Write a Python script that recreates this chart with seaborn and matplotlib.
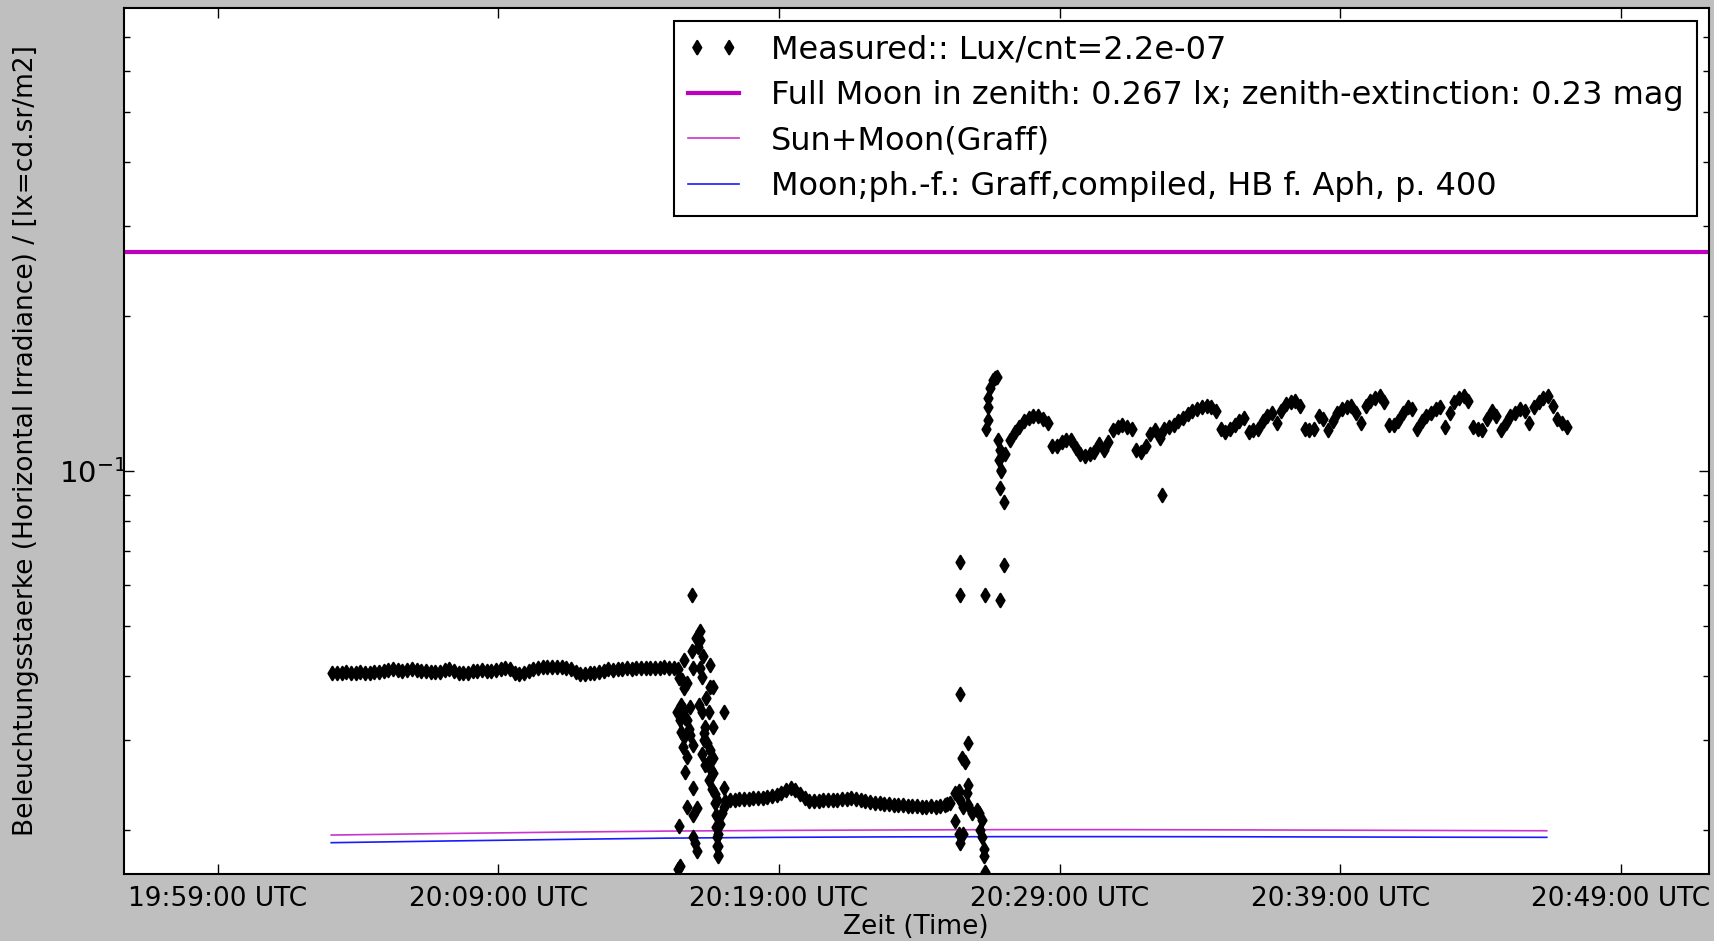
import numpy as np
import pandas as pd
import matplotlib
matplotlib.use("Agg")
import matplotlib.pyplot as plt
import matplotlib.dates as mdates
import matplotlib.ticker as mticker
import seaborn as sns

# ---------------- data (times are minutes after 19:59:00 UTC) ----------------
# regularly sampled measured segments (10 s cadence)
seg1_start = 4.08
seg1_vals = [0.0404, 0.0405, 0.0405, 0.0406, 0.0405, 0.0405, 0.0406, 0.0405, 0.0405, 0.0406, 0.0407, 0.0408,
             0.0410, 0.0411, 0.0410, 0.0409, 0.0410, 0.0411, 0.0410, 0.0409, 0.0409,
             0.0407, 0.0406, 0.0407,
             0.0410, 0.0411, 0.0409,
             0.0405, 0.0404, 0.0405,
             0.0408, 0.0409, 0.0410, 0.0409, 0.0408, 0.0410,
             0.0412, 0.0413, 0.0411,
             0.0405, 0.0403, 0.0404,
             0.0409, 0.0412, 0.0414, 0.0415, 0.0416, 0.0415, 0.0416, 0.0415, 0.0414, 0.0412,
             0.0406, 0.0403, 0.0403, 0.0404, 0.0405, 0.0407,
             0.0409, 0.0411, 0.0410, 0.0411, 0.0412, 0.0413, 0.0412, 0.0413, 0.0414, 0.0413, 0.0414,
             0.0413, 0.0414, 0.0415, 0.0414, 0.0413, 0.0412]

trans1_t = [16.89, 17.17, 17.05, 17.19, 16.89, 17.28, 16.60, 17.55, 16.95, 17.17, 17.25, 16.54, 16.71,
            16.60, 17.55, 17.66, 17.40, 16.36, 16.60, 16.83, 17.25, 17.49, 18.02, 16.48, 16.71, 17.37,
            17.66, 16.60, 16.83, 17.31, 17.43, 16.95, 16.71, 17.25, 17.55, 17.66, 16.65, 17.37, 17.66,
            16.95, 17.49, 17.60, 18.02, 17.78, 18.02, 16.71, 17.07, 16.95, 16.42, 17.96, 17.90, 17.84,
            16.95, 17.01, 17.07, 17.84, 17.84, 16.48, 16.39, 17.72, 17.74, 17.75, 17.78, 17.80, 17.82,
            16.45, 16.52, 16.66, 16.78, 17.10, 17.13, 17.34, 17.46, 17.58, 17.70, 16.50, 16.57]
trans1_v = [0.0574, 0.0489, 0.0473, 0.0469, 0.0447, 0.0437, 0.0428, 0.0419, 0.0413, 0.0413, 0.0398, 0.0392,
            0.0386, 0.0378, 0.0380, 0.0380, 0.0361, 0.0340, 0.0343, 0.0348, 0.0340, 0.0340, 0.0340, 0.0328,
            0.0328, 0.0318, 0.0318, 0.0304, 0.0307, 0.0309, 0.0295, 0.0293, 0.0278, 0.0282, 0.0287, 0.0276,
            0.0260, 0.0268, 0.0258, 0.0242, 0.0251, 0.0241, 0.0242, 0.0229, 0.0222, 0.0222, 0.0221, 0.0214,
            0.0204, 0.0216, 0.0206, 0.0197, 0.0194, 0.0189, 0.0182, 0.0186, 0.0179, 0.0170, 0.0168,
            0.0226, 0.0214, 0.0203, 0.0194, 0.0186, 0.0178,
            0.0395, 0.0350, 0.0330, 0.0315, 0.0455, 0.0350, 0.0300, 0.0270, 0.0262, 0.0235, 0.0310, 0.0290]

seg3_start = 18.08
seg3_vals = [0.0228, 0.0229, 0.0229, 0.0230, 0.0230, 0.0230, 0.0231, 0.0231, 0.0231, 0.0232,
             0.0233, 0.0234, 0.0236,
             0.0239, 0.0242, 0.0239, 0.0235, 0.0231, 0.0228,
             0.0228, 0.0228, 0.0229, 0.0229, 0.0229, 0.0229, 0.0230, 0.0230, 0.0231,
             0.0230, 0.0229, 0.0228, 0.0227, 0.0226, 0.0226,
             0.0225, 0.0225, 0.0224, 0.0224, 0.0224, 0.0223, 0.0223, 0.0223, 0.0222, 0.0222,
             0.0223, 0.0222, 0.0223, 0.0224]

trans2_t = [26.00, 26.10, 26.28, 26.45, 26.57, 26.75, 26.87, 27.11, 27.23, 27.17, 26.28, 26.40, 26.57,
            26.45, 27.23, 27.29, 27.29, 27.35, 26.69, 27.05, 26.45, 26.75, 26.51, 26.63, 26.75, 26.40,
            26.45, 26.45, 27.35, 27.88, 28.02,
            27.76, 27.70, 27.64, 27.52, 27.46, 27.43, 27.46, 27.38,
            27.82, 27.88, 27.85, 27.92, 27.88, 28.00]
trans2_v = [0.0225, 0.0226, 0.0236, 0.0229, 0.0222, 0.0224, 0.0216, 0.0216, 0.0209, 0.0200, 0.0208, 0.0197,
            0.0197, 0.0189, 0.0194, 0.0184, 0.0178, 0.0166, 0.0236, 0.0219, 0.0369, 0.0295, 0.0276, 0.0272,
            0.0245, 0.0238, 0.0666, 0.0574, 0.0574, 0.0560, 0.0657,
            0.1527, 0.1515, 0.1504, 0.1449, 0.1385, 0.1335, 0.1257, 0.1206,
            0.1149, 0.1099, 0.1051, 0.1005, 0.0926, 0.0872]

seg4_start = 27.90
seg4_vals = [0.100, 0.108, 0.115, 0.119, 0.122, 0.125, 0.127, 0.128, 0.128, 0.126,
             0.124, 0.112, 0.112, 0.114, 0.115, 0.115, 0.111, 0.108, 0.107, 0.108,
             0.109, 0.113, 0.110, 0.114, 0.120, 0.122, 0.123, 0.122, 0.121, 0.110,
             0.109, 0.112, 0.118, 0.120, 0.116, 0.121, 0.122, 0.123, 0.125, 0.127,
             0.129, 0.131, 0.132, 0.133, 0.134, 0.133, 0.131, 0.121, 0.119, 0.121,
             0.123, 0.125, 0.127, 0.119, 0.120, 0.121, 0.125, 0.128, 0.130, 0.124,
             0.131, 0.135, 0.136, 0.137, 0.134, 0.121, 0.120, 0.121, 0.128, 0.126,
             0.120, 0.125, 0.130, 0.132, 0.133, 0.134, 0.130, 0.124, 0.134, 0.137,
             0.139, 0.140, 0.136, 0.123, 0.123, 0.125, 0.130, 0.133, 0.132, 0.121,
             0.125, 0.128, 0.130, 0.132, 0.133, 0.122, 0.130, 0.136, 0.139, 0.140,
             0.137, 0.122, 0.121, 0.120, 0.126, 0.131, 0.128, 0.120, 0.124, 0.128,
             0.130, 0.132, 0.131, 0.124, 0.133, 0.136, 0.139, 0.140, 0.134, 0.126,
             0.124, 0.122]

outlier_t = [33.66]
outlier_v = [0.0898]

# model curves
model_t = [4.04, 8, 12, 16, 20, 24, 28, 32, 36, 40, 44, 47.36]
sun_moon = [0.01957, 0.01970, 0.01982, 0.01992, 0.01998, 0.02002, 0.02005, 0.02005, 0.02003, 0.02000,
            0.01997, 0.01995]
moon_only = [0.01891, 0.01905, 0.01918, 0.01930, 0.01937, 0.01941, 0.01943, 0.01943, 0.01942, 0.01940,
             0.01938, 0.01937]
full_moon_lux = 0.267

tick_minutes = [0, 10, 20, 30, 40, 50]

labels = ["Measured:: Lux/cnt=2.2e-07",
          "Full Moon in zenith: 0.267 lx; zenith-extinction: 0.23 mag",
          "Sun+Moon(Graff)",
          "Moon;ph.-f.: Graff,compiled, HB f. Aph, p. 400"]

# ---------------- build frames ----------------
base = pd.Timestamp("2015-01-01 19:59:00")
step = 1.0 / 6.0


def reg_times(start, vals):
    return [start + i * step for i in range(len(vals))]


meas_min = (reg_times(seg1_start, seg1_vals) + trans1_t + reg_times(seg3_start, seg3_vals)
            + trans2_t + reg_times(seg4_start, seg4_vals) + outlier_t)
meas_val = seg1_vals + trans1_v + seg3_vals + trans2_v + seg4_vals + outlier_v
meas = pd.DataFrame({"time": base + pd.to_timedelta(meas_min, unit="m"), "lux": meas_val})
model = pd.DataFrame({"time": base + pd.to_timedelta(model_t, unit="m"),
                      "sun_moon": sun_moon, "moon": moon_only})

# ---------------- figure ----------------
plt.rcParams["font.family"] = ["DejaVu Sans"]
plt.rcParams["font.size"] = 19

fig = plt.figure(figsize=(17.14, 9.41), dpi=100)
fig.patch.set_facecolor("#bfbfbf")
ax = fig.add_axes([0.0721, 0.0707, 0.9248, 0.9212])
ax.set_facecolor("white")
ax.set_yscale("log")

sns.scatterplot(data=meas, x="time", y="lux", marker="d", color="k", edgecolor="k",
                s=46, linewidth=1.6, ax=ax, label=labels[0], zorder=3)
ax.axhline(full_moon_lux, color=(0.75, 0, 0.75), lw=3, label=labels[1])
sns.lineplot(data=model, x="time", y="sun_moon", color=(0.8, 0.2, 0.8), lw=1.2, ax=ax, label=labels[2])
sns.lineplot(data=model, x="time", y="moon", color=(0.1, 0.1, 1.0), lw=1.2, ax=ax, label=labels[3])

ax.set_xlim(base + pd.Timedelta(minutes=-3.36), base + pd.Timedelta(minutes=53.13))
ax.set_ylim(0.0164, 0.798)

ax.set_xticks([base + pd.Timedelta(minutes=m) for m in tick_minutes])
ax.xaxis.set_major_formatter(mdates.DateFormatter("%H:%M:%S UTC"))
ax.yaxis.set_major_locator(mticker.LogLocator(base=10))
ax.yaxis.set_minor_locator(mticker.LogLocator(base=10, subs=np.arange(2, 10)))
ax.yaxis.set_minor_formatter(mticker.NullFormatter())

ax.tick_params(which="both", direction="in", top=True, right=True, width=1, colors="k")
ax.tick_params(which="major", length=7)
ax.tick_params(which="minor", length=4)
ax.tick_params(axis="x", which="major", pad=8)
ax.tick_params(axis="y", which="major", pad=-2.3, labelsize=21)
for s in ax.spines.values():
    s.set_linewidth(1.5)
    s.set_color("k")

ax.set_xlabel("Zeit (Time)", labelpad=2)
ax.set_ylabel("Beleuchtungsstaerke (Horizontal Irradiance) / [lx=cd.sr/m2]", labelpad=14.5)

h, l = ax.get_legend_handles_labels()
order = [l.index(x) for x in labels]
leg = ax.legend([h[i] for i in order], [l[i] for i in order], loc="upper right",
                bbox_to_anchor=(0.9927, 0.9845), borderaxespad=0,
                fontsize=23, frameon=True, fancybox=False, framealpha=1, edgecolor="k",
                scatterpoints=2, scatteryoffsets=[0.5], handlelength=1.6, labelspacing=0.45,
                borderpad=0.43, handletextpad=1.0)
leg.get_frame().set_linewidth(1.5)

fig.savefig("out.png", dpi=100, facecolor=fig.get_facecolor())
